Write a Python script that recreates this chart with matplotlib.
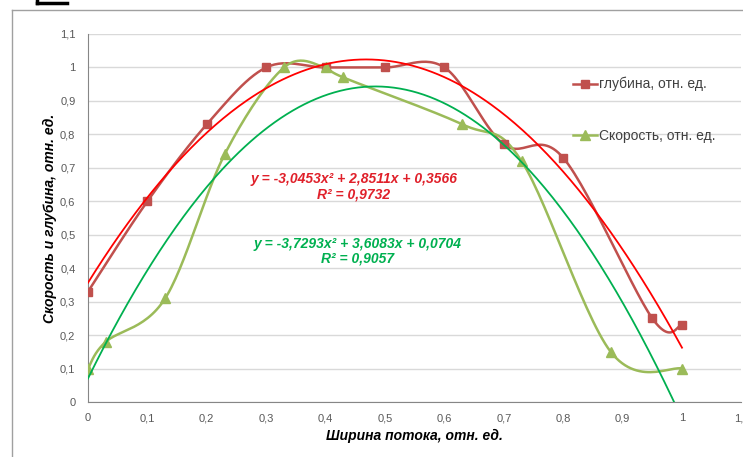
import numpy as np
import matplotlib
matplotlib.use("Agg")
import matplotlib.pyplot as plt
from matplotlib.lines import Line2D

# ---- data ----
depth_x = [0.0, 0.1, 0.2, 0.3, 0.4, 0.5, 0.6, 0.7, 0.8, 0.95, 1.0]
depth_y = [0.33, 0.60, 0.83, 1.00, 1.00, 1.00, 1.00, 0.77, 0.73, 0.25, 0.23]
speed_x = [0.0, 0.03, 0.13, 0.23, 0.33, 0.40, 0.43, 0.63, 0.73, 0.88, 1.0]
speed_y = [0.10, 0.18, 0.31, 0.74, 1.00, 1.00, 0.97, 0.83, 0.72, 0.15, 0.10]
depth_coef = [-3.0453, 2.8511, 0.3566]
speed_coef = [-3.7293, 3.6083, 0.0704]
depth_label = "глубина, отн. ед."
speed_label = "Скорость, отн. ед."
depth_eq = "y = -3,0453x² + 2,8511x + 0,3566\nR² = 0,9732"
speed_eq = "y = -3,7293x² + 3,6083x + 0,0704\nR² = 0,9057"
xticks = [0, 0.1, 0.2, 0.3, 0.4, 0.5, 0.6, 0.7, 0.8, 0.9, 1.0, 1.1]
yticks = [0, 0.1, 0.2, 0.3, 0.4, 0.5, 0.6, 0.7, 0.8, 0.9, 1.0, 1.1]
xlabel = "Ширина потока, отн. ед."
ylabel = "Скорость и глубина, отн. ед."

C_DEPTH = "#C0504D"
C_SPEED = "#9BBB59"
C_TR_D = "#FF0000"
C_TR_S = "#00B050"


def smooth(xs, ys, n=30):
    P = np.column_stack([xs, ys]).astype(float)
    out = []
    m = len(P)
    for i in range(m - 1):
        p0 = P[i - 1] if i > 0 else P[i]
        p1 = P[i]
        p2 = P[i + 1]
        p3 = P[i + 2] if i + 2 < m else P[i + 1]
        c1 = p1 + (p2 - p0) / 6.0
        c2 = p2 - (p3 - p1) / 6.0
        t = np.linspace(0, 1, n)[:, None]
        seg = ((1 - t) ** 3) * p1 + 3 * ((1 - t) ** 2) * t * c1 + 3 * (1 - t) * t ** 2 * c2 + t ** 3 * p2
        out.append(seg if i == 0 else seg[1:])
    s = np.vstack(out)
    return s[:, 0], s[:, 1]


def fmt(v):
    s = f"{v:.1f}".replace(".", ",")
    if s.endswith(",0"):
        s = s[:-2]
    return s

plt.rcParams['font.family'] = ['Liberation Sans', 'DejaVu Sans']

fig = plt.figure(figsize=(7.43, 4.57), dpi=100)
W, H = 743, 457
x0p, x1p = 88, 741.4
y0p, y1p = 402, 34
ax = fig.add_axes([x0p / W, 1 - y0p / H, (x1p - x0p) / W, (y0p - y1p) / H])

ax.set_xlim(0, 1.1)
ax.set_ylim(0, 1.1)
ax.set_xticks(xticks)
ax.set_yticks(yticks)
ax.set_xticklabels([fmt(v) for v in xticks])
ax.set_yticklabels([fmt(v) for v in yticks])
ax.tick_params(length=0, labelsize=8, colors="#595959", pad=9)
ax.tick_params(axis='x', pad=8)
ax.grid(axis='y', color="#D9D9D9", lw=1.0)
ax.set_axisbelow(True)
for s in ['top', 'right']:
    ax.spines[s].set_visible(False)
ax.spines['left'].set_color("#868686")
ax.spines['bottom'].set_color("#868686")
ax.spines['left'].set_linewidth(0.8)
ax.spines['bottom'].set_linewidth(0.8)

# smoothed series
sx, sy = smooth(depth_x, depth_y)
ax.plot(sx, sy, color=C_DEPTH, lw=1.8, zorder=3)
ax.plot(depth_x, depth_y, ls='none', marker='s', ms=6, color=C_DEPTH, zorder=4)
sx, sy = smooth(speed_x, speed_y)
ax.plot(sx, sy, color=C_SPEED, lw=1.8, zorder=3)
ax.plot(speed_x, speed_y, ls='none', marker='^', ms=6.5, color=C_SPEED, zorder=4)

# trendlines
xt = np.linspace(0, 1, 300)
ax.plot(xt, np.polyval(depth_coef, xt), color=C_TR_D, lw=1.3, zorder=5)
ax.plot(xt, np.polyval(speed_coef, xt), color=C_TR_S, lw=1.3, zorder=5, clip_on=True)

# equations
ax.text((354 - x0p) / (x1p - x0p), (y0p - 186.5) / (y0p - y1p), depth_eq, transform=ax.transAxes,
        ha='center', va='center', color="#E0202A", fontsize=10, fontweight='bold', fontstyle='italic',
        linespacing=1.1)
ax.text((358 - x0p) / (x1p - x0p), (y0p - 251) / (y0p - y1p), speed_eq, transform=ax.transAxes,
        ha='center', va='center', color="#00B050", fontsize=10, fontweight='bold', fontstyle='italic',
        linespacing=1.05)

# axis labels
fig.text(414 / W, 1 - 436 / H, xlabel, ha='center', va='center', fontsize=10, fontweight='bold',
         fontstyle='italic', color="#000000")
fig.text(50 / W, 1 - 218 / H, ylabel, ha='center', va='center', rotation=90, fontsize=10,
         fontweight='bold', fontstyle='italic', color="#000000")

# legend
h1 = Line2D([], [], color=C_DEPTH, lw=1.8, marker='s', ms=6)
h2 = Line2D([], [], color=C_SPEED, lw=1.8, marker='^', ms=6.5)
leg = fig.legend([h1, h2], [depth_label, speed_label], loc='upper left',
                 bbox_to_anchor=(566 / W, 1 - 70 / H), frameon=False, fontsize=10,
                 handlelength=1.7, handletextpad=0.2, labelspacing=2.7, borderpad=0)
for t in leg.get_texts():
    t.set_color("#404040")

# chart area border
fig.add_artist(Line2D([12 / W, 12 / W], [0, 1 - 10 / H], color="#A0A0A0", lw=1.0))
fig.add_artist(Line2D([12 / W, 1], [1 - 10 / H, 1 - 10 / H], color="#A0A0A0", lw=1.0))
fig.add_artist(Line2D([37 / W, 67 / W], [1 - 3 / H, 1 - 3 / H], color="#000000", lw=2.5))
fig.add_artist(Line2D([37 / W, 37 / W], [1 - 3 / H, 1], color="#000000", lw=2.5))

fig.savefig("out.png", dpi=100)
